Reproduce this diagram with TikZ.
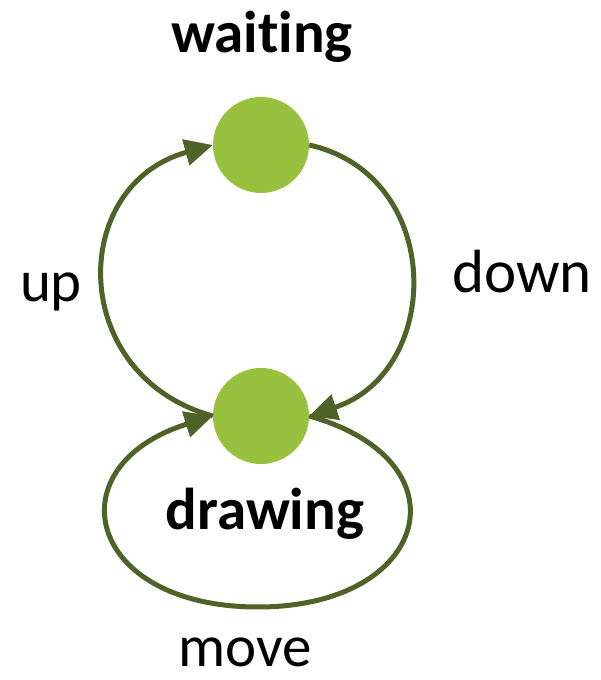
\documentclass[tikz,border=0pt]{standalone}
\usepackage{fontspec}
\setmainfont{Carlito}[Ligatures=NoCommon]
\usetikzlibrary{arrows.meta,positioning}
\definecolor{smOlive}{HTML}{4F6228}
\definecolor{smGreen}{HTML}{99C140}

\begin{document}
\begin{tikzpicture}[x=1pt,y=1pt,>={Triangle[length=28pt,width=26pt]},
  state/.style={circle,fill=smGreen,minimum size=96pt,inner sep=0pt},
  trans/.style={->,smOlive,line width=5pt},
  lbl/.style={font=\fontsize{59}{70}\selectfont,inner sep=0pt,anchor=base}]
\useasboundingbox (0,0) rectangle (600,680);
\node[state] (waiting) at (261,535) {};
\node[state] (drawing) at (261,264) {};
\node[lbl] (waitingtxt) at (262,627) {\textbf{waiting}};
\node[lbl] (drawingtxt) at (265,150) {\textbf{drawing}};
\node[lbl] (uptxt) at (51,378) {up};
\node[lbl,font=\fontsize{61}{70}\selectfont] (downtxt) at (522,387) {down};
\node[lbl] (movetxt) at (245,13) {move};
\coordinate (movebot) at (258,73);
% transitions
\draw[trans] (drawing.west) .. controls +(-145,40) and +(-145,-40) .. (waiting.west);
\draw[trans] (waiting.east) .. controls +(135,-30) and +(135,45) .. (drawing.east);
\draw[trans] (drawing.east) .. controls +(160,-45) and +(172,0) .. (movebot)
  .. controls +(-172,0) and +(-160,-50) .. (drawing.west);
\end{tikzpicture}
\end{document}
